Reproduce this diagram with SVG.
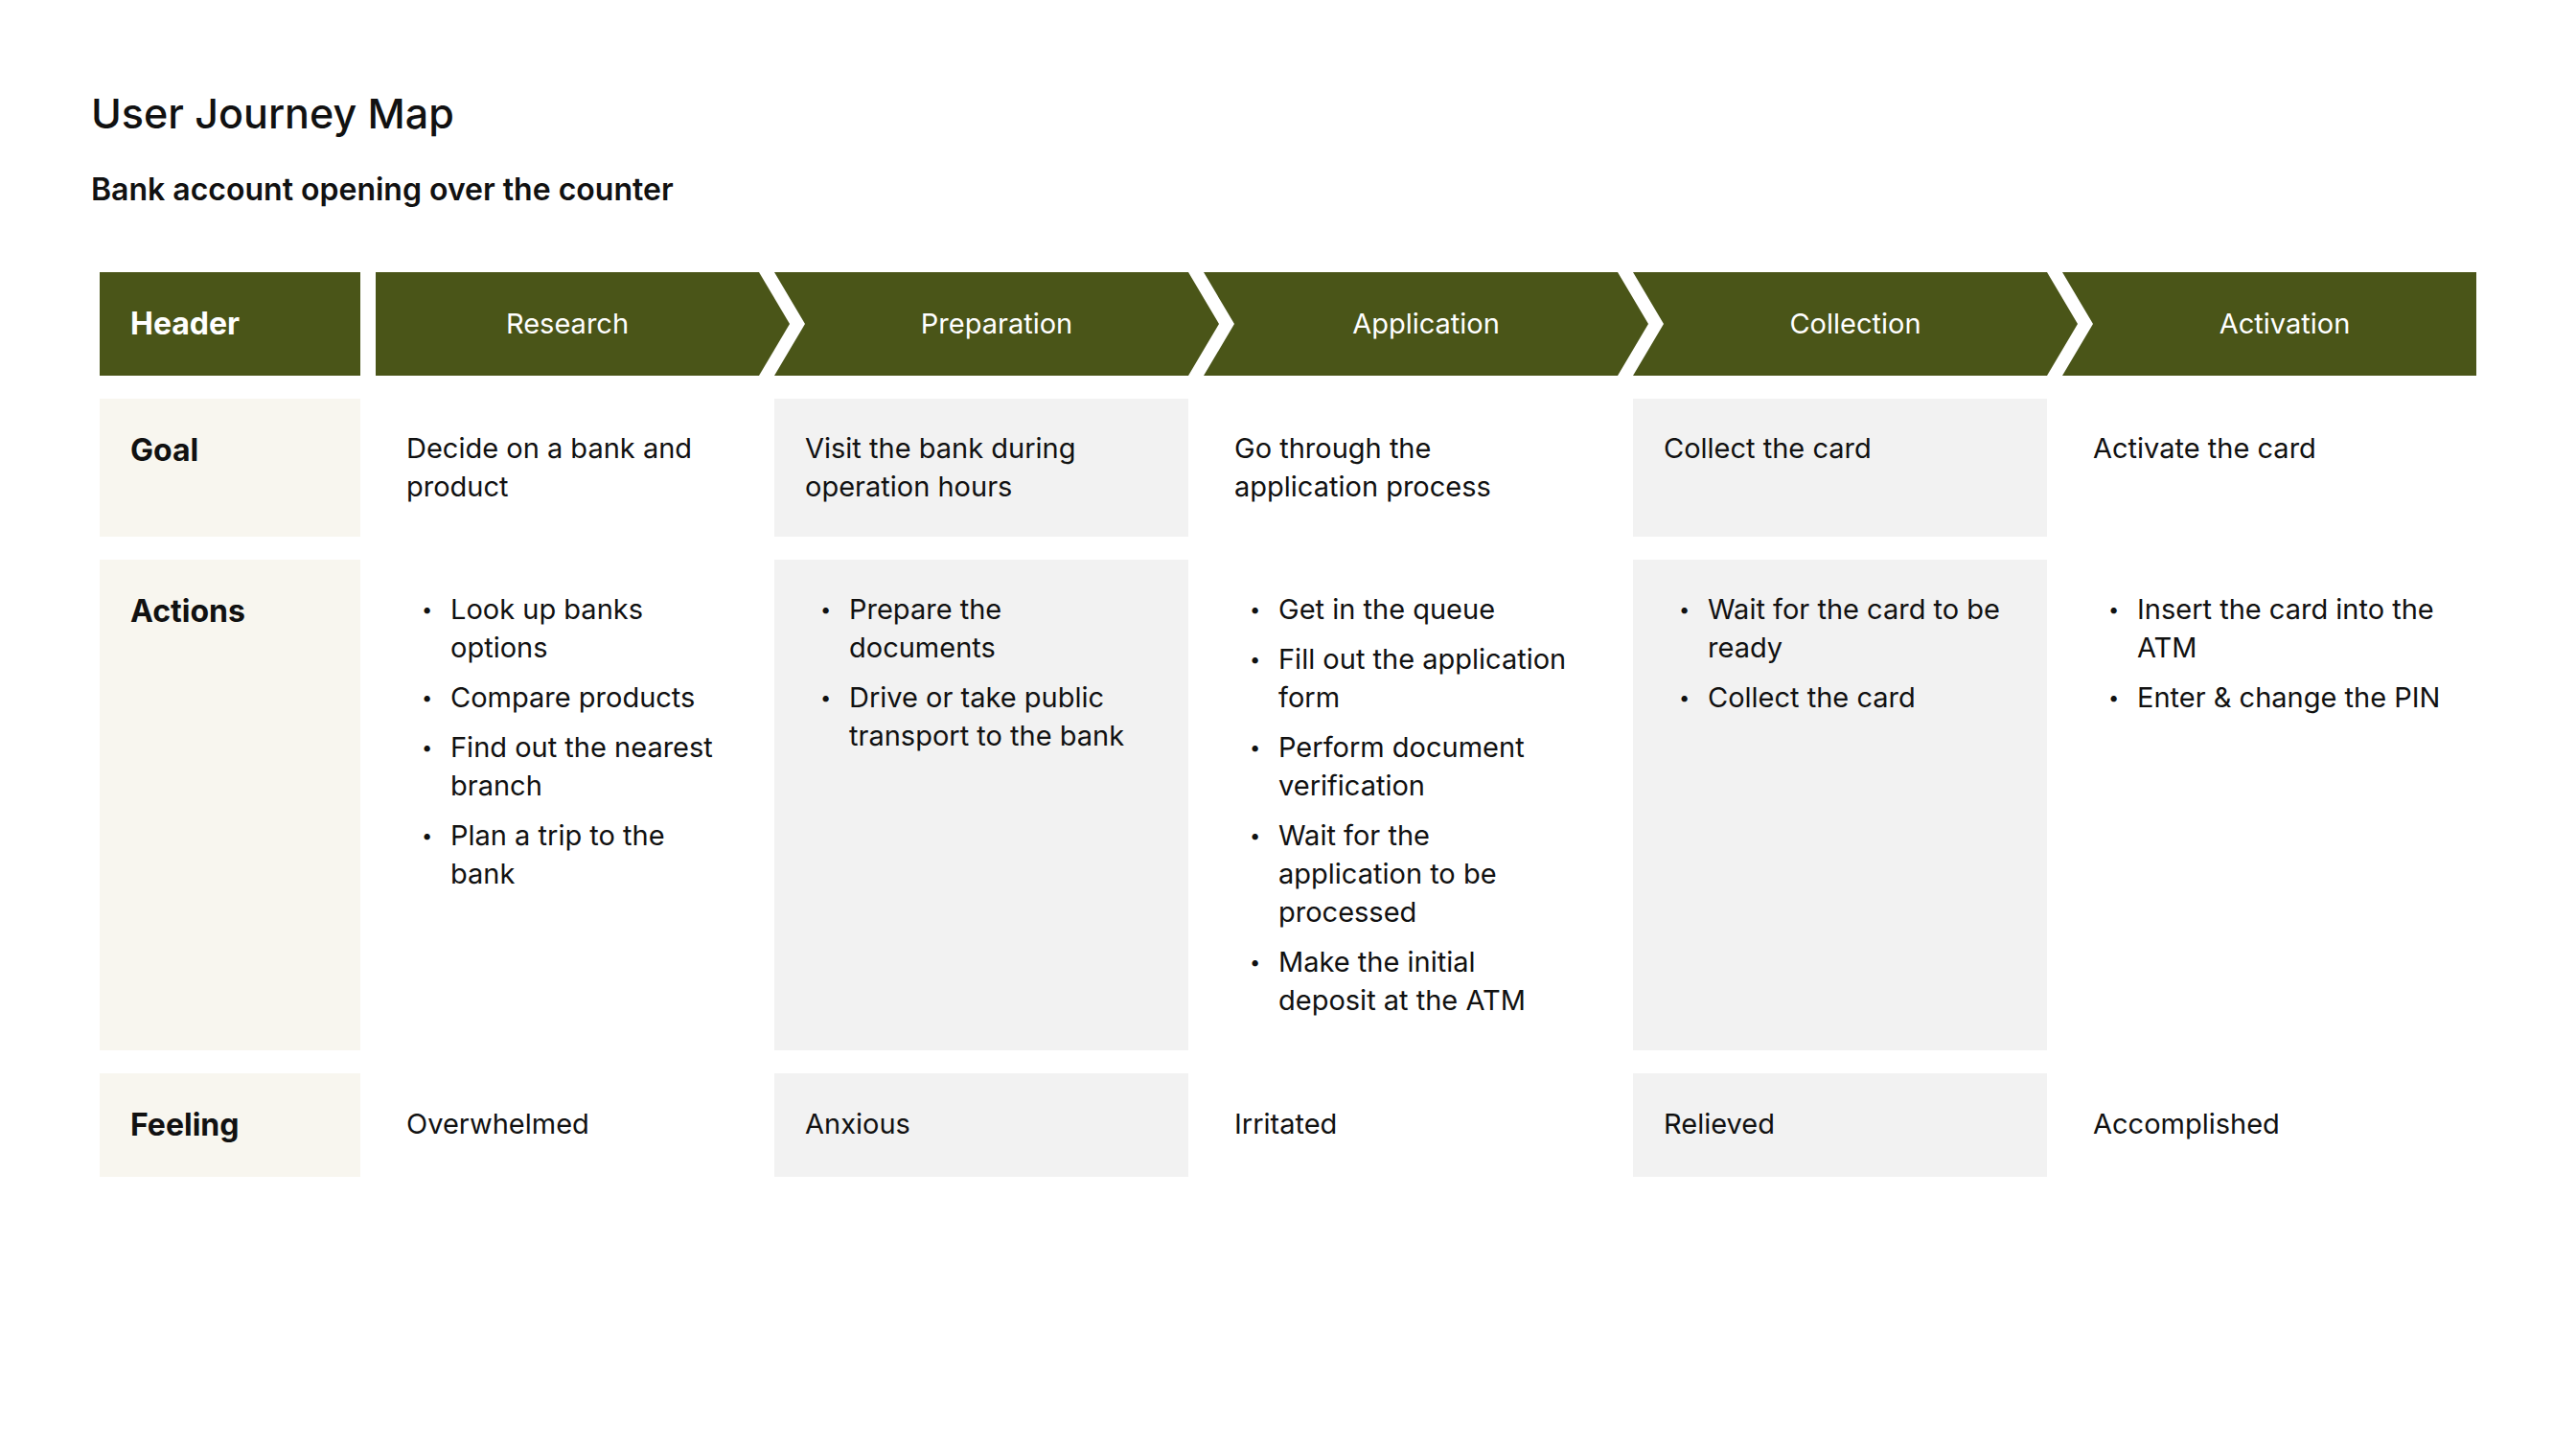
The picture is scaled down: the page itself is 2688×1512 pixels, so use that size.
<svg xmlns="http://www.w3.org/2000/svg" width="2688" height="1512" viewBox="0 0 2688 1512">
<style>
  text { font-family: Inter, "Liberation Sans", sans-serif; fill: #111111; }
  .title { font-size: 43px; font-weight: 500; }
  .subtitle { font-size: 32px; font-weight: 600; }
  .hdr { fill: #4A5518; }
  .hlabel { font-size: 32px; font-weight: 700; fill: #FFFFFF; }
  .phase { font-size: 29px; font-weight: 400; fill: #FFFFFF; text-anchor: middle; }
  .label { font-size: 32px; font-weight: 700; }
  .body { font-size: 29px; font-weight: 400; }
  .bullet { font-size: 20px; font-weight: 400; }
  .cream { fill: #F8F6EF; }
  .gray { fill: #F2F2F2; }
</style>
<rect x="0" y="0" width="2688" height="1512" fill="#FFFFFF"/>

<g id="titles">
  <text class="title" x="95" y="134">User Journey Map</text>
  <text class="subtitle" x="95" y="209">Bank account opening over the counter</text>
</g>

<g id="header-row">
  <g id="header-label">
    <rect class="hdr" x="104" y="284" width="272" height="108"/>
    <text class="hlabel" x="136" y="349">Header</text>
  </g>
  <g id="phase-research">
    <polygon class="hdr" points="392,284 792,284 824,338 792,392 392,392"/>
    <text class="phase" x="592" y="348">Research</text>
  </g>
  <g id="phase-preparation">
    <polygon class="hdr" points="808,284 1240,284 1272,338 1240,392 808,392 840,338"/>
    <text class="phase" x="1040" y="348">Preparation</text>
  </g>
  <g id="phase-application">
    <polygon class="hdr" points="1256,284 1688,284 1720,338 1688,392 1256,392 1288,338"/>
    <text class="phase" x="1488" y="348">Application</text>
  </g>
  <g id="phase-collection">
    <polygon class="hdr" points="1704,284 2136,284 2168,338 2136,392 1704,392 1736,338"/>
    <text class="phase" x="1936" y="348">Collection</text>
  </g>
  <g id="phase-activation">
    <polygon class="hdr" points="2152,284 2584,284 2584,392 2152,392 2184,338"/>
    <text class="phase" x="2384" y="348">Activation</text>
  </g>
</g>

<g id="goal-row">
  <g id="goal-label">
    <rect class="cream" x="104" y="416" width="272" height="144"/>
    <text class="label" x="136" y="481">Goal</text>
  </g>
  <g id="goal-research">
    <text class="body" x="424" y="478">Decide on a bank and</text>
    <text class="body" x="424" y="518">product</text>
  </g>
  <g id="goal-preparation">
    <rect class="gray" x="808" y="416" width="432" height="144"/>
    <text class="body" x="840" y="478">Visit the bank during</text>
    <text class="body" x="840" y="518">operation hours</text>
  </g>
  <g id="goal-application">
    <text class="body" x="1288" y="478">Go through the</text>
    <text class="body" x="1288" y="518">application process</text>
  </g>
  <g id="goal-collection">
    <rect class="gray" x="1704" y="416" width="432" height="144"/>
    <text class="body" x="1736" y="478">Collect the card</text>
  </g>
  <g id="goal-activation">
    <text class="body" x="2184" y="478">Activate the card</text>
  </g>
</g>

<g id="actions-row">
  <g id="actions-label">
    <rect class="cream" x="104" y="584" width="272" height="512"/>
    <text class="label" x="136" y="649">Actions</text>
  </g>
  <g id="actions-research">
    <text class="bullet" x="440" y="643">•</text>
    <text class="body" x="470" y="646">Look up banks</text>
    <text class="body" x="470" y="686">options</text>
    <text class="bullet" x="440" y="735">•</text>
    <text class="body" x="470" y="738">Compare products</text>
    <text class="bullet" x="440" y="787">•</text>
    <text class="body" x="470" y="790">Find out the nearest</text>
    <text class="body" x="470" y="830">branch</text>
    <text class="bullet" x="440" y="879">•</text>
    <text class="body" x="470" y="882">Plan a trip to the</text>
    <text class="body" x="470" y="922">bank</text>
  </g>
  <g id="actions-preparation">
    <rect class="gray" x="808" y="584" width="432" height="512"/>
    <text class="bullet" x="856" y="643">•</text>
    <text class="body" x="886" y="646">Prepare the</text>
    <text class="body" x="886" y="686">documents</text>
    <text class="bullet" x="856" y="735">•</text>
    <text class="body" x="886" y="738">Drive or take public</text>
    <text class="body" x="886" y="778">transport to the bank</text>
  </g>
  <g id="actions-application">
    <text class="bullet" x="1304" y="643">•</text>
    <text class="body" x="1334" y="646">Get in the queue</text>
    <text class="bullet" x="1304" y="695">•</text>
    <text class="body" x="1334" y="698">Fill out the application</text>
    <text class="body" x="1334" y="738">form</text>
    <text class="bullet" x="1304" y="787">•</text>
    <text class="body" x="1334" y="790">Perform document</text>
    <text class="body" x="1334" y="830">verification</text>
    <text class="bullet" x="1304" y="879">•</text>
    <text class="body" x="1334" y="882">Wait for the</text>
    <text class="body" x="1334" y="922">application to be</text>
    <text class="body" x="1334" y="962">processed</text>
    <text class="bullet" x="1304" y="1011">•</text>
    <text class="body" x="1334" y="1014">Make the initial</text>
    <text class="body" x="1334" y="1054">deposit at the ATM</text>
  </g>
  <g id="actions-collection">
    <rect class="gray" x="1704" y="584" width="432" height="512"/>
    <text class="bullet" x="1752" y="643">•</text>
    <text class="body" x="1782" y="646">Wait for the card to be</text>
    <text class="body" x="1782" y="686">ready</text>
    <text class="bullet" x="1752" y="735">•</text>
    <text class="body" x="1782" y="738">Collect the card</text>
  </g>
  <g id="actions-activation">
    <text class="bullet" x="2200" y="643">•</text>
    <text class="body" x="2230" y="646">Insert the card into the</text>
    <text class="body" x="2230" y="686">ATM</text>
    <text class="bullet" x="2200" y="735">•</text>
    <text class="body" x="2230" y="738">Enter &amp; change the PIN</text>
  </g>
</g>

<g id="feeling-row">
  <g id="feeling-label">
    <rect class="cream" x="104" y="1120" width="272" height="108"/>
    <text class="label" x="136" y="1185">Feeling</text>
  </g>
  <g id="feeling-research">
    <text class="body" x="424" y="1183">Overwhelmed</text>
  </g>
  <g id="feeling-preparation">
    <rect class="gray" x="808" y="1120" width="432" height="108"/>
    <text class="body" x="840" y="1183">Anxious</text>
  </g>
  <g id="feeling-application">
    <text class="body" x="1288" y="1183">Irritated</text>
  </g>
  <g id="feeling-collection">
    <rect class="gray" x="1704" y="1120" width="432" height="108"/>
    <text class="body" x="1736" y="1183">Relieved</text>
  </g>
  <g id="feeling-activation">
    <text class="body" x="2184" y="1183">Accomplished</text>
  </g>
</g>

<g id="connectors"></g>
</svg>
